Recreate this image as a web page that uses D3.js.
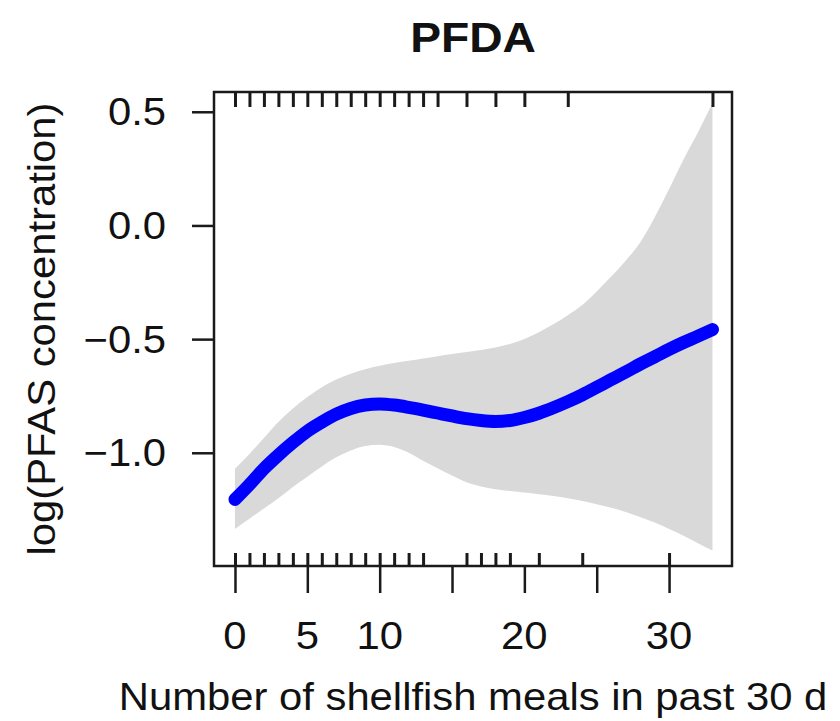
<!DOCTYPE html>
<html>
<head>
<meta charset="utf-8">
<script src="https://cdn.jsdelivr.net/npm/d3@7"></script>
<style>
  html, body { margin: 0; padding: 0; background: #fff; }
  svg { display: block; }
  text { font-family: "Liberation Sans", Arial, Helvetica, sans-serif; fill: #111; }
</style>
</head>
<body>
<svg id="chart" width="840" height="721"></svg>
<script>
// ---- data ----
const title = "PFDA";
const xLabel = "Number of shellfish meals in past 30 d";
const yLabel = "log(PFAS concentration)";
const xs =    [0, 1, 2, 3, 4, 5, 6, 7, 8, 9, 10, 11, 12, 13, 14, 15, 16, 17, 18, 19, 20, 21, 22, 23, 24, 25, 26, 27, 28, 29, 30, 31, 32, 33];
const fit =   [-1.205, -1.14, -1.07, -1.01, -0.955, -0.905, -0.865, -0.83, -0.805, -0.79, -0.785, -0.79, -0.80, -0.812, -0.825, -0.838, -0.85, -0.858, -0.862, -0.858, -0.845, -0.826, -0.802, -0.775, -0.745, -0.712, -0.678, -0.645, -0.61, -0.578, -0.545, -0.515, -0.487, -0.458];
const upper = [-1.07, -1.005, -0.935, -0.865, -0.805, -0.755, -0.712, -0.678, -0.652, -0.632, -0.617, -0.605, -0.595, -0.585, -0.575, -0.565, -0.557, -0.548, -0.537, -0.522, -0.50, -0.47, -0.435, -0.395, -0.35, -0.29, -0.225, -0.155, -0.075, 0.035, 0.16, 0.29, 0.41, 0.537];
const lower = [-1.335, -1.29, -1.245, -1.20, -1.15, -1.105, -1.06, -1.02, -0.99, -0.97, -0.965, -0.975, -1.0, -1.035, -1.068, -1.10, -1.13, -1.148, -1.16, -1.168, -1.175, -1.182, -1.19, -1.2, -1.212, -1.226, -1.242, -1.26, -1.282, -1.307, -1.335, -1.365, -1.398, -1.43];
const rugTop =    [0, 1, 2, 3, 4, 5, 6, 7, 8, 9, 10, 11, 12, 13, 14, 16, 18, 20, 23, 33];
const rugBottom = [0, 1, 2, 3, 4, 5, 6, 7, 8, 9, 10, 11, 12, 13, 16, 17, 18, 19, 21, 24, 30];
const xTicks = [0, 5, 10, 15, 20, 25, 30];
const xTickLabels = ["0", "5", "10", "", "20", "", "30"];
const yTicks = [0.5, 0.0, -0.5, -1.0];
const yTickLabels = ["0.5", "0.0", "\u22120.5", "\u22121.0"];

// ---- layout ----
const L = 214, R = 732, T = 92, B = 566;
const x = d3.scaleLinear().domain([-1.45, 34.35]).range([L, R]);
const y = d3.scaleLinear().domain([-1.498, 0.587]).range([B, T]);
const svg = d3.select("#chart");
const FS = 38, SX = 1.1;

const rows = xs.map((v, i) => ({x: v, fit: fit[i], lo: lower[i], hi: upper[i]}));

// band
svg.append("path")
  .datum(rows)
  .attr("fill", "#d9d9d9")
  .attr("d", d3.area().x(d => x(d.x)).y0(d => y(d.lo)).y1(d => y(d.hi)).curve(d3.curveMonotoneX));

// fitted line
svg.append("path")
  .datum(rows)
  .attr("fill", "none")
  .attr("stroke", "#0000ff")
  .attr("stroke-width", 13)
  .attr("stroke-linecap", "round")
  .attr("stroke-linejoin", "round")
  .attr("d", d3.line().x(d => x(d.x)).y(d => y(d.fit)).curve(d3.curveMonotoneX));

// rugs via axes
const gTopRug = svg.append("g").attr("transform", `translate(0,${T})`)
  .call(d3.axisTop(x).tickValues(rugTop).tickSize(-15).tickFormat(""));
const gBotRug = svg.append("g").attr("transform", `translate(0,${B})`)
  .call(d3.axisBottom(x).tickValues(rugBottom).tickSize(-13).tickFormat(""));
[gTopRug, gBotRug].forEach(g => {
  g.select(".domain").remove();
  g.selectAll(".tick line").attr("stroke", "#1a1a1a").attr("stroke-width", 3);
});

// main axes
const gx = svg.append("g").attr("transform", `translate(0,${B})`)
  .call(d3.axisBottom(x).tickValues(xTicks).tickSize(27).tickFormat(""));
const gy = svg.append("g").attr("transform", `translate(${L},0)`)
  .call(d3.axisLeft(y).tickValues(yTicks).tickSize(22).tickFormat(""));
[gx, gy].forEach(g => {
  g.select(".domain").remove();
  g.selectAll(".tick line").attr("stroke", "#1a1a1a").attr("stroke-width", 2.5);
});

// box
svg.append("rect")
  .attr("x", L).attr("y", T).attr("width", R - L).attr("height", B - T)
  .attr("fill", "none").attr("stroke", "#1a1a1a").attr("stroke-width", 2.5);

// tick labels
svg.append("g").selectAll("text")
  .data(xTicks.map((v, i) => ({v, s: xTickLabels[i]})).filter(d => d.s !== ""))
  .join("text")
  .attr("transform", d => `translate(${x(d.v)},649) scale(${SX},1)`)
  .attr("text-anchor", "middle")
  .attr("font-size", FS)
  .text(d => d.s);

svg.append("g").selectAll("text")
  .data(yTicks.map((v, i) => ({v, s: yTickLabels[i]})))
  .join("text")
  .attr("transform", d => `translate(166,${y(d.v) + 13.5}) scale(${SX},1)`)
  .attr("text-anchor", "end")
  .attr("font-size", FS)
  .text(d => d.s);

// axis titles
svg.append("text")
  .attr("transform", `translate(${(L + R) / 2},710) scale(${SX},1)`)
  .attr("text-anchor", "middle")
  .attr("font-size", FS)
  .text(xLabel);

svg.append("text")
  .attr("transform", `translate(55,${(T + B) / 2}) rotate(-90) scale(${SX},1)`)
  .attr("text-anchor", "middle")
  .attr("font-size", FS)
  .text(yLabel);

svg.append("text")
  .attr("transform", `translate(${(L + R) / 2},52) scale(${SX},1)`)
  .attr("text-anchor", "middle")
  .attr("font-size", 42)
  .attr("font-weight", "bold")
  .text(title);
</script>
</body>
</html>
